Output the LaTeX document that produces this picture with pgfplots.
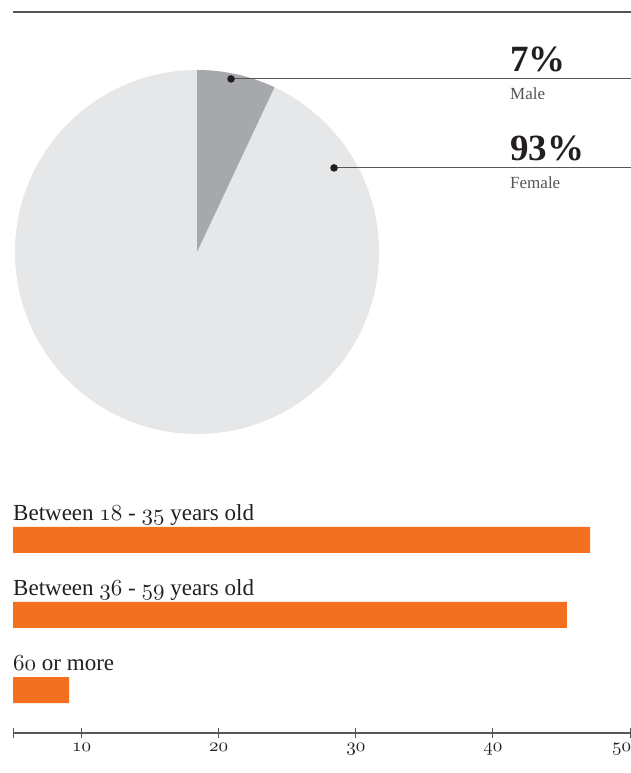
\documentclass[border=0pt]{standalone}
\usepackage{fontspec}
\setmainfont{Liberation Serif}
\DeclareFontShape{OML}{cmm}{m}{it}{<->cmmi10}{}
\DeclareFontShape{OML}{cmm}{b}{it}{<->cmmib10}{}
\usepackage{pgfplots}
\pgfplotsset{compat=1.18}
\definecolor{lineg}{HTML}{555555}
\definecolor{pielight}{HTML}{E6E7E9}
\definecolor{piedark}{HTML}{A7A8AB}
\definecolor{barorange}{HTML}{F37021}
\definecolor{txt}{HTML}{231F20}
\newcommand{\os}[1]{$\mathnormal{#1}$}
\begin{document}
\begin{tikzpicture}[x=1pt,y=1pt]
\useasboundingbox (0,0) rectangle (631,773);
\draw[lineg, line width=1.2pt] (13,761) -- (631,761);

% ---------- pie ----------
\def\male{7}
\def\female{93}
\begin{axis}[at={(15pt,339pt)}, anchor=south west, scale only axis,
  width=364pt, height=364pt, xmin=-1, xmax=1, ymin=-1, ymax=1,
  hide axis, clip=false]
\pgfmathsetmacro{\ang}{90-3.6*\male}
\fill[pielight] (axis cs:0,0) -- (axis cs:0,1) arc[start angle=90, end angle=\ang-360, radius=182pt] -- cycle;
\fill[piedark] (axis cs:0,0) -- (axis cs:0,1) arc[start angle=90, end angle=\ang, radius=182pt] -- cycle;
% leader lines
\draw[lineg, line width=1pt] (axis cs:0.187,0.951) -- (axis cs:2.385,0.951);
\draw[lineg, line width=1pt] (axis cs:0.753,0.462) -- (axis cs:2.385,0.462);
\fill[txt] (axis cs:0.187,0.951) circle[radius=3.8pt];
\fill[txt] (axis cs:0.753,0.462) circle[radius=3.8pt];
% labels
\node[anchor=base west, inner sep=0pt, text=txt, font=\fontsize{37}{42}\selectfont\bfseries] at (axis cs:1.72,0.99) {\male\%};
\node[anchor=base west, inner sep=0pt, text=lineg, font=\fontsize{17}{20}\selectfont] at (axis cs:1.72,0.84) {Male};
\node[anchor=base west, inner sep=0pt, text=txt, font=\fontsize{37}{42}\selectfont\bfseries] at (axis cs:1.72,0.5) {\female\%};
\node[anchor=base west, inner sep=0pt, text=lineg, font=\fontsize{17}{20}\selectfont] at (axis cs:1.72,0.35) {Female};
\end{axis}

% ---------- bars ----------
\begin{axis}[at={(13pt,40pt)}, anchor=south west, scale only axis,
  width=617pt, height=230.5pt,
  xmin=5, xmax=50, ymin=0.4267, ymax=3.5,
  axis x line*=bottom, axis y line=none,
  x axis line style={lineg, line width=1.2pt},
  xtick={5,10,20,30,40,50},
  xticklabels={,\os{10},\os{20},\os{30},\os{40},\makebox[2pt][r]{\os{50}}},
  major tick length=10pt, tick align=center,
  tick style={lineg, line width=1pt},
  xticklabel style={font=\fontsize{19}{22}\selectfont, text=txt, anchor=north, inner sep=0pt, yshift=-5pt},
  clip=true]
\addplot[xbar, bar width=26pt, fill=barorange, draw=none] coordinates {(47.1,3) (45.4,2) (9.1,1)};
\node[anchor=base west, inner sep=0pt, text=txt, font=\fontsize{23}{27}\selectfont] at (axis cs:5,3.262) {Between \os{18} - \os{35} years old};
\node[anchor=base west, inner sep=0pt, text=txt, font=\fontsize{23}{27}\selectfont] at (axis cs:5,2.262) {Between \os{36} - \os{59} years old};
\node[anchor=base west, inner sep=0pt, text=txt, font=\fontsize{23}{27}\selectfont] at (axis cs:5,1.262) {\os{60} or more};
\end{axis}
\end{tikzpicture}
\end{document}
